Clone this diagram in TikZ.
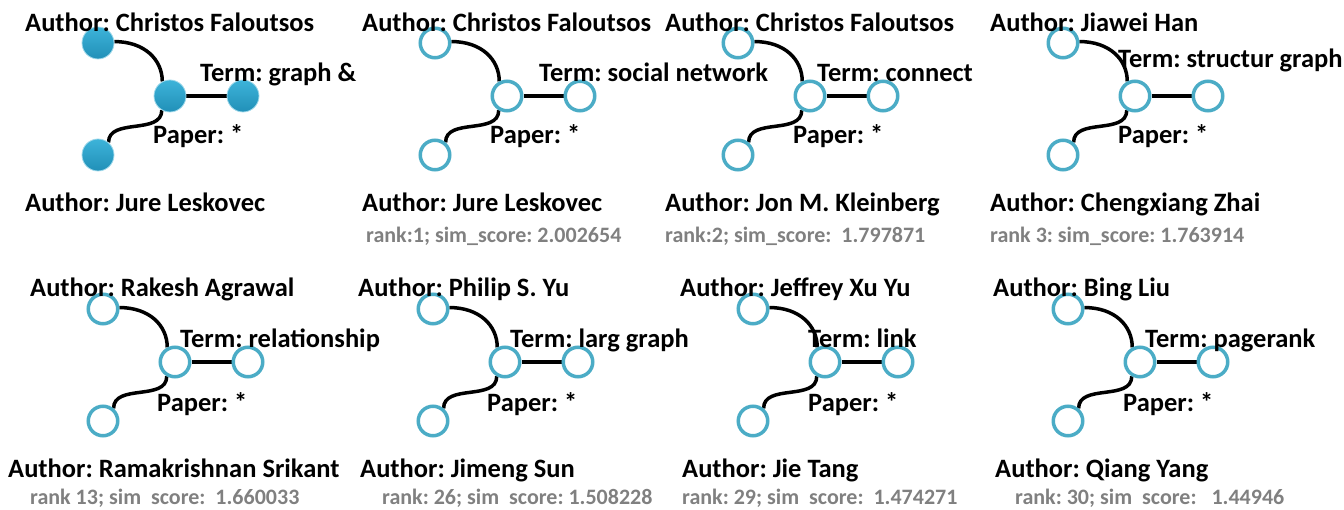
\documentclass[tikz,border=0pt]{standalone}
\usepackage{fontspec}
\setmainfont{Carlito}
\definecolor{nodeblue}{HTML}{4BACC6}
\definecolor{rankgray}{HTML}{808080}
\definecolor{ballhi}{HTML}{3DB3D9}
\definecolor{balllo}{HTML}{2190B8}
\definecolor{ballrim}{HTML}{9ED8EA}
\pgfdeclarelayer{background}
\pgfsetlayers{background,main}
\tikzset{
  hollow/.style={circle, draw=nodeblue, line width=3.5pt, fill=white, minimum size=29.5pt, inner sep=0pt},
  filledball/.style={circle, draw=ballrim, line width=0.8pt, top color=ballhi, bottom color=balllo, minimum size=32pt, inner sep=0pt},
  link/.style={line width=3.5pt, black},
  lbl/.style={anchor=base west, inner sep=0pt, font=\fontsize{26.5}{30}\selectfont\bfseries\frenchspacing},
  score/.style={anchor=base west, inner sep=0pt, text=rankgray, font=\fontsize{22}{24}\selectfont\bfseries\frenchspacing},
}
\newcommand\motif[4]{%
  \node[#4] (#1a) at (#2,#3) {};
  \node[#4] (#1c) at ({#2+72},{#3+53}) {};
  \node[#4] (#1t) at ({#2+145},{#3+53}) {};
  \node[#4] (#1b) at (#2,{#3+112}) {};
  \begin{pgfonlayer}{background}
  \draw[link] (#1a.5) .. controls +(30,0) and +(0,-22) .. (#1c.118);
  \draw[link] (#1c.240) .. controls +(0,25) and +(0,-25) .. (#1b.50);
  \draw[link] (#1c) -- (#1t);
  \end{pgfonlayer}
}
\begin{document}
\begin{tikzpicture}[x=1pt,y=-1pt]
\useasboundingbox (0,0) rectangle (1344,510);
% row 1
\motif{pA}{98}{43}{filledball}
\motif{pB}{435}{43}{hollow}
\motif{pC}{738}{43}{hollow}
\motif{pD}{1063}{43}{hollow}
% row 2
\motif{pE}{103}{309}{hollow}
\motif{pF}{433}{309}{hollow}
\motif{pG}{753}{309}{hollow}
\motif{pH}{1068}{309}{hollow}
% labels row 1
\node[lbl] (pAl1) at (25,32) {Author: Christos Faloutsos};
\node[lbl] (pAl2) at (200,82) {Term: graph \&};
\node[lbl] (pAl3) at (153,144) {Paper: *};
\node[lbl] (pAl4) at (25,212) {Author: Jure Leskovec};
\node[lbl] (pBl1) at (362,32) {Author: Christos Faloutsos};
\node[lbl] (pBl2) at (539,82) {Term: social network};
\node[lbl] (pBl3) at (490,144) {Paper: *};
\node[lbl] (pBl4) at (362,212) {Author: Jure Leskovec};
\node[score] (pBs) at (366,243) {rank:1; sim\_score: 2.002654};
\node[lbl] (pCl1) at (665,32) {Author: Christos Faloutsos};
\node[lbl] (pCl2) at (817,82) {Term: connect};
\node[lbl] (pCl3) at (793,144) {Paper: *};
\node[lbl] (pCl4) at (665,212) {Author: Jon M. Kleinberg};
\node[score] (pCs) at (665,243) {rank:2; sim\_score:~~1.797871};
\node[lbl] (pDl1) at (990,32) {Author: Jiawei Han};
\node[lbl] (pDl2) at (1118,68) {Term: structur graph};
\node[lbl] (pDl3) at (1118,144) {Paper: *};
\node[lbl] (pDl4) at (990,212) {Author: Chengxiang Zhai};
\node[score] (pDs) at (990,243) {rank 3: sim\_score: 1.763914};
% labels row 2
\node[lbl] (pEl1) at (30,297) {Author: Rakesh Agrawal};
\node[lbl] (pEl2) at (180,348) {Term: relationship};
\node[lbl] (pEl3) at (157,411) {Paper: *};
\node[lbl] (pEl4) at (8,477) {Author: Ramakrishnan Srikant};
\node[score] (pEs) at (30,504) {rank 13; sim~~score:~~1.660033};
\node[lbl] (pFl1) at (358,297) {Author: Philip S. Yu};
\node[lbl] (pFl2) at (510,348) {Term: larg graph};
\node[lbl] (pFl3) at (487,411) {Paper: *};
\node[lbl] (pFl4) at (360,477) {Author: Jimeng Sun};
\node[score] (pFs) at (382,504) {rank: 26; sim~~score: 1.508228};
\node[lbl] (pGl1) at (680,297) {Author: Jeffrey Xu Yu};
\node[lbl] (pGl2) at (808,348) {Term: link};
\node[lbl] (pGl3) at (808,411) {Paper: *};
\node[lbl] (pGl4) at (682,477) {Author: Jie Tang};
\node[score] (pGs) at (682,504) {rank: 29; sim~~score:~~1.474271};
\node[lbl] (pHl1) at (993,297) {Author: Bing Liu};
\node[lbl] (pHl2) at (1145,348) {Term: pagerank};
\node[lbl] (pHl3) at (1123,411) {Paper: *};
\node[lbl] (pHl4) at (995,477) {Author: Qiang Yang};
\node[score] (pHs) at (1015,504) {rank: 30; sim~~score:~~~1.44946};
\end{tikzpicture}
\end{document}
